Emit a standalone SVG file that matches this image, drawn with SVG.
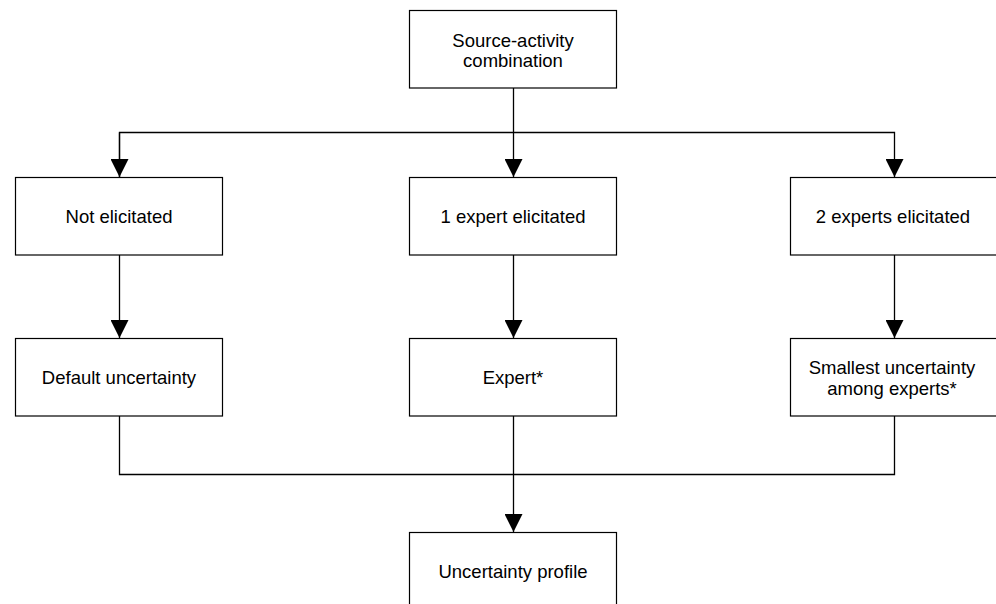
<svg xmlns="http://www.w3.org/2000/svg" width="996" height="604" viewBox="0 0 996 604">
<style>
.box{fill:#fff;stroke:#000;stroke-width:1.2}
.lbl{font-family:"Liberation Sans",Arial,sans-serif;font-size:18.5px;fill:#000;text-anchor:middle}
.ln{fill:none;stroke:#000;stroke-width:1.3}
</style>
<defs>
<marker id="arr" markerUnits="userSpaceOnUse" markerWidth="20" markerHeight="18" refX="18" refY="9" orient="auto" viewBox="0 0 18 18">
<polygon points="0,0 18,9 0,18" fill="#000"/>
</marker>
</defs>
<rect width="996" height="604" fill="#fff"/>
<g id="connectors">
<path class="ln" d="M513.5,88 V177" marker-end="url(#arr)"/>
<path class="ln" d="M119.5,177 V132.5 H894.5 V177" marker-end="url(#arr)"/>
<path class="ln" d="M119.5,132.5 V177" marker-end="url(#arr)"/>
<path class="ln" d="M119.5,255 V338" marker-end="url(#arr)"/>
<path class="ln" d="M513.5,255 V338" marker-end="url(#arr)"/>
<path class="ln" d="M894.5,255 V338" marker-end="url(#arr)"/>
<path class="ln" d="M119.5,416 V474.5 H894.5 V416"/>
<path class="ln" d="M513.5,416 V532" marker-end="url(#arr)"/>
</g>
<g id="n_source">
<rect class="box" x="409.5" y="10.5" width="207" height="77.5"/>
<text class="lbl" x="513" y="46.5">Source-activity</text>
<text class="lbl" x="513" y="66.5">combination</text>
</g>
<g id="n_not">
<rect class="box" x="15.5" y="177.5" width="207" height="77.5"/>
<text class="lbl" x="119" y="222.5">Not elicitated</text>
</g>
<g id="n_one">
<rect class="box" x="409.5" y="177.5" width="207" height="77.5"/>
<text class="lbl" x="513" y="222.5">1 expert elicitated</text>
</g>
<g id="n_two">
<rect class="box" x="790.5" y="177.5" width="207" height="77.5"/>
<text class="lbl" x="893" y="222.5">2 experts elicitated</text>
</g>
<g id="n_default">
<rect class="box" x="15.5" y="338.5" width="207" height="77.5"/>
<text class="lbl" x="119" y="383.5">Default uncertainty</text>
</g>
<g id="n_expert">
<rect class="box" x="409.5" y="338.5" width="207" height="77.5"/>
<text class="lbl" x="513" y="383.5">Expert*</text>
</g>
<g id="n_smallest">
<rect class="box" x="790.5" y="338.5" width="207" height="77.5"/>
<text class="lbl" x="892" y="373.5">Smallest uncertainty</text>
<text class="lbl" x="892" y="394.5">among experts*</text>
</g>
<g id="n_profile">
<rect class="box" x="409.5" y="532.5" width="207" height="80"/>
<text class="lbl" x="513" y="577.5">Uncertainty profile</text>
</g>
</svg>
